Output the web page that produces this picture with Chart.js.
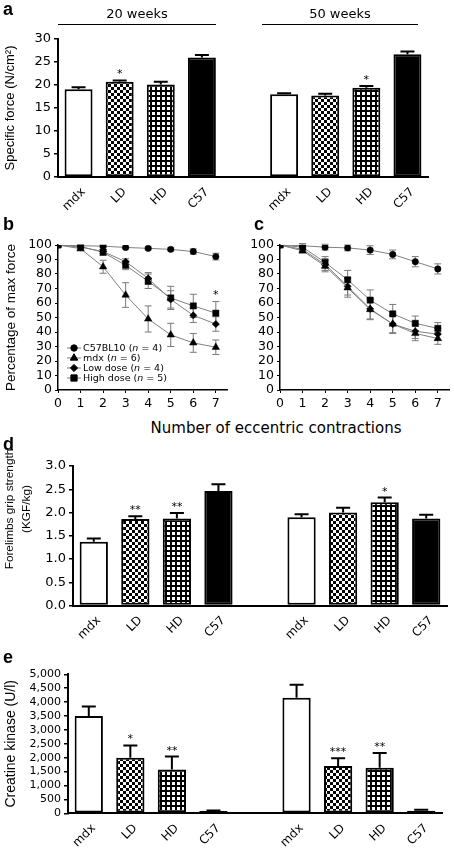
<!DOCTYPE html>
<html>
<head>
<meta charset="utf-8">
<title>Specific force, eccentric contractions, grip strength, creatine kinase</title>
<script src="https://cdn.jsdelivr.net/npm/chart.js@4.4.1/dist/chart.umd.min.js"></script>
<style>
  body { margin: 0; background: #fff; }
  #fig { position: relative; width: 454px; height: 848px; overflow: hidden; background: #fff; }
  #fig canvas { position: absolute; }
  .panel { position: absolute; font: bold 18px/18px 'Liberation Sans', Arial, sans-serif; }
  .head { position: absolute; font: 13px/13px 'DejaVu Sans', sans-serif; text-align: center; white-space: nowrap; }
  .rule { position: absolute; height: 0; border-top: 1.5px solid #000; }
  .ytitle { position: absolute; font: 11.8px/17px 'Liberation Sans', Arial, sans-serif; text-align: center; white-space: nowrap; transform: rotate(-90deg); }
</style>
</head>
<body>
<div id="fig">
  <canvas id="forceChart" width="454" height="215" style="left:0;top:0"></canvas>
  <canvas id="eccBChart" width="232" height="192" style="left:0;top:225px"></canvas>
  <canvas id="eccCChart" width="228" height="192" style="left:226px;top:225px"></canvas>
  <canvas id="gripChart" width="454" height="206" style="left:0;top:440px"></canvas>
  <canvas id="ckChart" width="454" height="198" style="left:0;top:650px"></canvas>

  <div class="panel" style="left:3px;top:0">a</div>
  <div class="panel" style="left:3px;top:215px">b</div>
  <div class="panel" style="left:254px;top:215px">c</div>
  <div class="panel" style="left:3px;top:435px">d</div>
  <div class="panel" style="left:3px;top:648px">e</div>

  <div class="head" style="left:58px;width:158px;top:7px">20 weeks</div>
  <div class="rule" style="left:58px;width:158px;top:24px"></div>
  <div class="head" style="left:262px;width:156px;top:7px">50 weeks</div>
  <div class="rule" style="left:262px;width:156px;top:24px"></div>

  <div class="head" style="left:126px;width:300px;top:421px;font-size:15px;line-height:15px">Number of eccentric contractions</div>

  <div class="ytitle" style="left:-52px;top:492px;width:140px;height:34px">Forelimbs grip strength<br>(KGF/kg)</div>
</div>

<script>
const TICK_FONT = "'DejaVu Sans', sans-serif";
const TITLE_FONT = "'Liberation Sans', Arial, sans-serif";

// bar panels: 4 groups per age, empty slot between the two ages
const barLabels = ['mdx', 'LD', 'HD', 'C57', '', 'mdx', 'LD', 'HD', 'C57'];

// a - specific force (N/cm2)
const forceMean = [19.1, 20.7, 20.1, 26.0, null, 18.0, 17.7, 19.4, 26.7];
const forceErr = [0.4, 0.3, 0.6, 0.5, null, 0.2, 0.4, 0.4, 0.6];
const forceStars = ['', '*', '', '', '', '', '', '*', ''];
const forceTicks = [0, 5, 10, 15, 20, 25, 30];

// b, c - percentage of max force after eccentric contractions
const contractions = [0, 1, 2, 3, 4, 5, 6, 7];
const pctTicks = [0, 10, 20, 30, 40, 50, 60, 70, 80, 90, 100];
const seriesNames = ['C57BL10', 'mdx', 'Low dose', 'High dose'];
const seriesN = [4, 6, 4, 5];

const bC57 = [100, 99.5, 99.2, 98.3, 97.7, 97.0, 95.5, 92.0];
const bC57Err = [0, 0.8, 0.8, 0.8, 1.0, 1.0, 1.8, 2.3];
const bMdx = [100, 97.5, 85.0, 65.5, 49.0, 38.0, 32.5, 29.5];
const bMdxErr = [0, 1.5, 4.5, 8.5, 9.0, 8.0, 6.5, 5.0];
const bLow = [100, 98.5, 95.5, 88.5, 77.0, 62.5, 51.5, 45.5];
const bLowErr = [0, 1.0, 1.5, 2.0, 4.0, 6.0, 5.0, 5.0];
const bHigh = [100, 99.0, 95.0, 86.0, 75.0, 63.5, 58.0, 53.0];
const bHighErr = [0, 1.0, 2.0, 3.0, 5.0, 8.0, 8.0, 8.0];
const bHighStars = ['', '', '', '', '', '', '', '*'];

const cC57 = [100, 99.5, 98.5, 98.0, 96.5, 93.5, 88.5, 83.5];
const cC57Err = [0, 1.5, 2.0, 2.0, 3.0, 3.0, 3.5, 3.5];
const cMdx = [100, 96.0, 85.5, 70.5, 55.5, 45.5, 39.0, 35.5];
const cMdxErr = [0, 1.5, 4.0, 6.5, 7.0, 6.5, 5.0, 4.0];
const cLow = [100, 97.0, 86.5, 71.5, 56.0, 45.5, 40.5, 38.5];
const cLowErr = [0, 1.5, 4.0, 6.0, 7.0, 6.0, 5.0, 4.0];
const cHigh = [100, 98.5, 88.0, 76.0, 62.0, 52.5, 46.0, 42.5];
const cHighErr = [0, 1.5, 4.0, 6.5, 7.0, 6.5, 5.0, 4.0];

// d - forelimb grip strength (KGF/kg)
const gripMean = [1.37, 1.86, 1.87, 2.46, null, 1.90, 2.00, 2.22, 1.87];
const gripErr = [0.07, 0.06, 0.12, 0.15, null, 0.06, 0.10, 0.10, 0.08];
const gripStars = ['', '**', '**', '', '', '', '', '*', ''];
const gripTicks = [0, 0.5, 1.0, 1.5, 2.0, 2.5, 3.0];

// e - creatine kinase (U/l)
const ckMean = [3500, 2000, 1580, 80, null, 4160, 1700, 1640, 90];
const ckErr = [340, 440, 460, 20, null, 460, 280, 530, 40];
const ckStars = ['', '*', '**', '', '', '', '***', '**', ''];
const ckTicks = [0, 500, 1000, 1500, 2000, 2500, 3000, 3500, 4000, 4500, 5000];

Chart.defaults.font.family = TICK_FONT;
Chart.defaults.color = '#000';

function checkPattern(ctx) {
    const c = document.createElement('canvas');
    c.width = 6; c.height = 6;
    const g = c.getContext('2d');
    g.fillStyle = '#fff'; g.fillRect(0, 0, 6, 6);
    g.fillStyle = '#000'; g.fillRect(0, 0, 3, 3); g.fillRect(3, 3, 3, 3);
    return ctx.createPattern(c, 'repeat');
}

function gridPattern(ctx) {
    const c = document.createElement('canvas');
    c.width = 5; c.height = 5;
    const g = c.getContext('2d');
    g.fillStyle = '#fff'; g.fillRect(0, 0, 5, 5);
    g.fillStyle = '#000'; g.fillRect(0, 0, 5, 2); g.fillRect(0, 0, 2, 5);
    return ctx.createPattern(c, 'repeat');
}

// upward error bars + significance stars for the bar panels
const barErrorBars = {
    id: 'barErrorBars',
    afterDatasetsDraw(chart) {
        const ds = chart.data.datasets[0];
        const meta = chart.getDatasetMeta(0);
        const y = chart.scales.y;
        const ctx = chart.ctx;
        ctx.save();
        ctx.strokeStyle = '#000';
        ctx.lineWidth = 2;
        ctx.fillStyle = '#000';
        ctx.font = "11px 'DejaVu Sans'";
        ctx.textAlign = 'center';
        meta.data.forEach((bar, i) => {
            const v = ds.data[i];
            if (v == null) return;
            const top = y.getPixelForValue(v + ds.errors[i]);
            ctx.beginPath();
            ctx.moveTo(bar.x, bar.y);
            ctx.lineTo(bar.x, top);
            ctx.moveTo(bar.x - 7, top);
            ctx.lineTo(bar.x + 7, top);
            ctx.stroke();
            if (ds.stars[i]) ctx.fillText(ds.stars[i], bar.x, top - 3);
        });
        ctx.restore();
    }
};

// grey two-sided error bars for the line panels
const lineErrorBars = {
    id: 'lineErrorBars',
    beforeDatasetsDraw(chart) {
        const ctx = chart.ctx;
        const x = chart.scales.x, y = chart.scales.y;
        ctx.save();
        ctx.strokeStyle = '#7a7a7a';
        ctx.lineWidth = 1;
        chart.data.datasets.forEach(ds => {
            ds.data.forEach((p, i) => {
                const e = ds.errors[i];
                if (!e) return;
                const px = x.getPixelForValue(p.x);
                const top = y.getPixelForValue(p.y + e);
                const bot = y.getPixelForValue(p.y - e);
                ctx.beginPath();
                ctx.moveTo(px, top); ctx.lineTo(px, bot);
                ctx.moveTo(px - 3.5, top); ctx.lineTo(px + 3.5, top);
                ctx.moveTo(px - 3.5, bot); ctx.lineTo(px + 3.5, bot);
                ctx.stroke();
            });
        });
        ctx.restore();
    },
    afterDatasetsDraw(chart) {
        const ctx = chart.ctx;
        const x = chart.scales.x, y = chart.scales.y;
        ctx.save();
        ctx.fillStyle = '#000';
        ctx.font = "11px 'DejaVu Sans'";
        ctx.textAlign = 'center';
        chart.data.datasets.forEach(ds => {
            if (!ds.stars) return;
            ds.data.forEach((p, i) => {
                if (!ds.stars[i]) return;
                ctx.fillText(ds.stars[i], x.getPixelForValue(p.x), y.getPixelForValue(p.y + ds.errors[i]) - 4);
            });
        });
        ctx.restore();
    }
};

// legend inside panel b, with italic n
const innerLegend = {
    id: 'innerLegend',
    afterDraw(chart) {
        if (!chart.options.plugins.innerLegend.show) return;
        const ctx = chart.ctx;
        const left = chart.chartArea.left + 9;
        const base = chart.chartArea.bottom - 42;
        ctx.save();
        chart.data.datasets.forEach((ds, k) => {
            const yy = base + k * 10;
            ctx.strokeStyle = '#7a7a7a';
            ctx.lineWidth = 1;
            ctx.beginPath(); ctx.moveTo(left, yy); ctx.lineTo(left + 14, yy); ctx.stroke();
            ctx.fillStyle = '#000';
            ctx.strokeStyle = '#000';
            Chart.helpers.drawPoint(ctx, { pointStyle: ds.pointStyle, radius: ds.pointRadius, rotation: 0, borderWidth: 0.5 }, left + 7, yy);
            ctx.textBaseline = 'middle';
            let tx = left + 16;
            const parts = [[seriesNames[k] + ' (', 'normal'], ['n', 'italic'], [' = ' + seriesN[k] + ')', 'normal']];
            parts.forEach(([t, st]) => {
                ctx.font = st + " 9.5px 'DejaVu Sans'";
                ctx.fillText(t, tx, yy + 0.5);
                tx += ctx.measureText(t).width;
            });
        });
        ctx.restore();
    }
};

function makeBarChart(id, area, mean, err, stars, ticks, tickFmt, yTitle, tickSize, titleSize) {
    const canvas = document.getElementById(id);
    const ctx = canvas.getContext('2d');
    const fills = ['#fff', checkPattern(ctx), gridPattern(ctx), '#000'];
    return new Chart(ctx, {
        type: 'bar',
        data: {
            labels: barLabels,
            datasets: [{
                data: mean,
                errors: err,
                stars: stars,
                backgroundColor: mean.map((v, i) => fills[i > 4 ? i - 5 : i]),
                borderColor: '#000',
                borderWidth: 2,
                borderSkipped: false,
                barPercentage: 0.68,
                categoryPercentage: 1
            }]
        },
        options: {
            responsive: false,
            animation: false,
            devicePixelRatio: 1,
            layout: { padding: { top: area.top, right: canvas.width - area.right, left: 0, bottom: 0 } },
            plugins: { legend: { display: false }, tooltip: { enabled: false } },
            scales: {
                x: {
                    grid: { display: false },
                    border: { display: true, color: '#000', width: 2 },
                    ticks: { autoSkip: false, minRotation: 45, maxRotation: 45, labelOffset: 5, padding: 0, color: '#000', font: { size: 12 } },
                    afterFit: s => { s.height = canvas.height - area.bottom; }
                },
                y: {
                    min: ticks[0],
                    max: ticks[ticks.length - 1],
                    afterBuildTicks: s => { s.ticks = ticks.map(v => ({ value: v })); },
                    grid: { display: true, drawOnChartArea: false, drawTicks: true, tickLength: 4, color: '#000', lineWidth: 1.5 },
                    border: { color: '#000', width: 2 },
                    ticks: { autoSkip: false, color: '#000', padding: 3, font: { size: tickSize }, callback: v => tickFmt(v) },
                    title: { display: !!yTitle, text: yTitle, color: '#000', font: { family: TITLE_FONT, size: titleSize }, padding: { top: 3, bottom: 0 } },
                    afterFit: s => { s.width = area.left; }
                }
            }
        },
        plugins: [barErrorBars]
    });
}

function makeLineChart(id, area, series, errs, starsBySeries, yTitle, showLegend) {
    const canvas = document.getElementById(id);
    const ctx = canvas.getContext('2d');
    const styles = ['circle', 'triangle', 'rectRot', 'rect'];
    const radii = [3.2, 4.3, 3.6, 4.4];
    return new Chart(ctx, {
        type: 'line',
        data: {
            datasets: series.map((vals, k) => ({
                label: seriesNames[k],
                data: vals.map((v, i) => ({ x: contractions[i], y: v })),
                errors: errs[k],
                stars: starsBySeries[k],
                borderColor: '#808080',
                borderWidth: 1,
                pointStyle: styles[k],
                pointRadius: radii[k],
                pointBackgroundColor: '#000',
                pointBorderColor: '#000',
                pointBorderWidth: 0.5,
                tension: 0
            }))
        },
        options: {
            responsive: false,
            animation: false,
            devicePixelRatio: 1,
            layout: { padding: { top: area.top, right: canvas.width - area.right, left: 0, bottom: 0 } },
            plugins: { legend: { display: false }, tooltip: { enabled: false }, innerLegend: { show: showLegend } },
            scales: {
                x: {
                    type: 'linear',
                    min: 0,
                    max: 7.5,
                    afterBuildTicks: s => { s.ticks = contractions.map(v => ({ value: v })); },
                    grid: { display: true, drawOnChartArea: false, tickLength: 3, color: '#000', lineWidth: 1 },
                    border: { color: '#000', width: 1.5 },
                    ticks: { autoSkip: false, color: '#000', padding: 3, font: { size: 12.5 } },
                    afterFit: s => { s.height = canvas.height - area.bottom; }
                },
                y: {
                    min: 0,
                    max: 100,
                    afterBuildTicks: s => { s.ticks = pctTicks.map(v => ({ value: v })); },
                    grid: { display: true, drawOnChartArea: false, tickLength: 3, color: '#000', lineWidth: 1 },
                    border: { color: '#000', width: 1.5 },
                    ticks: { autoSkip: false, color: '#000', padding: 3, font: { size: 12.5 } },
                    title: { display: !!yTitle, text: yTitle, color: '#000', font: { family: TITLE_FONT, size: 13.5 }, padding: { top: 3, bottom: 0 } },
                    afterFit: s => { s.width = area.left; }
                }
            }
        },
        plugins: [lineErrorBars, innerLegend]
    });
}

makeBarChart('forceChart', { left: 58, right: 428, top: 39, bottom: 177 },
    forceMean, forceErr, forceStars, forceTicks, v => String(v), 'Specific force (N/cm²)', 13, 13);

makeLineChart('eccBChart', { left: 58, right: 230, top: 20, bottom: 165 },
    [bC57, bMdx, bLow, bHigh], [bC57Err, bMdxErr, bLowErr, bHighErr],
    [null, null, null, bHighStars], 'Percentage of max force', true);

makeLineChart('eccCChart', { left: 54, right: 226, top: 20, bottom: 165 },
    [cC57, cMdx, cLow, cHigh], [cC57Err, cMdxErr, cLowErr, cHighErr],
    [null, null, null, null], '', false);

// grip title is placed as a rotated text block above (it sits higher than the axis middle)
makeBarChart('gripChart', { left: 73, right: 447, top: 26, bottom: 165.5 },
    gripMean, gripErr, gripStars, gripTicks, v => v.toFixed(1), '', 13, 12);

makeBarChart('ckChart', { left: 68, right: 442, top: 24.3, bottom: 163.3 },
    ckMean, ckErr, ckStars, ckTicks, v => v.toLocaleString('en-US'), 'Creatine kinase (U/l)', 11, 14);
</script>
</body>
</html>
